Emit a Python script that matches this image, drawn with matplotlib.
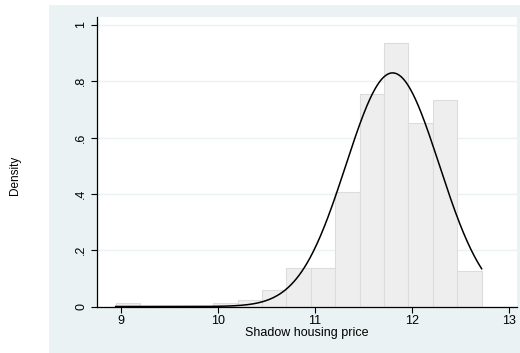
import numpy as np
import matplotlib
matplotlib.use("Agg")
import matplotlib.pyplot as plt
from matplotlib.patches import Rectangle

plt.rcParams['font.family'] = ['Liberation Sans', 'DejaVu Sans']

# Histogram bins (left edges), bin width and density heights
bin_start = 8.9455
bin_width = 0.2515
densities = [0.011, 0.0, 0.0, 0.0, 0.011, 0.022, 0.0575, 0.136, 0.136,
             0.406, 0.754, 0.935, 0.652, 0.733, 0.126]
# Normal overlay parameters
norm_mean = 11.80
norm_sd = 0.4807
x_min, x_max = 8.9455, 12.718

xticks = [9, 10, 11, 12, 13]
yticks = [0, 0.2, 0.4, 0.6, 0.8, 1.0]
ytick_labels = ["0", ".2", ".4", ".6", ".8", "1"]
xlabel = "Shadow housing price"
ylabel = "Density"

fig = plt.figure(figsize=(5.2, 3.53), dpi=100)
fig.patch.set_facecolor('white')
bg = Rectangle((49/520, 0), 1 - 49/520, 348/353, transform=fig.transFigure,
               facecolor='#EAF2F3', edgecolor='none', zorder=-10)
fig.patches.append(bg)

ax = fig.add_axes([97/520, 46.5/353, 420/520, 289.5/353])
ax.set_zorder(1)
ax.set_facecolor('white')

edges = bin_start + bin_width * np.arange(len(densities))
ax.bar(edges, densities, width=bin_width, align='edge',
       facecolor='#EEEEEE', edgecolor='#DCDCDC', linewidth=0.8, zorder=2)

xs = np.linspace(x_min, x_max, 400)
ys = np.exp(-0.5 * ((xs - norm_mean) / norm_sd) ** 2) / (norm_sd * np.sqrt(2 * np.pi))
ax.plot(xs, ys, color='black', linewidth=1.1, zorder=3)

ax.set_xlim(8.753, 13.082)
ax.set_ylim(0, 1.0284)
ax.set_xticks(xticks)
ax.set_yticks(yticks)
ax.set_yticklabels(ytick_labels, rotation=90, va='center')
ax.tick_params(axis='both', labelsize=9, length=4, width=0.8, color='black')
ax.tick_params(axis='y', pad=3)
ax.tick_params(axis='x', pad=2)
ax.grid(axis='y', color='#EAF2F3', linewidth=1.0, zorder=1)
ax.set_axisbelow(True)
for s in ['top', 'right']:
    ax.spines[s].set_visible(False)
for s in ['left', 'bottom']:
    ax.spines[s].set_linewidth(0.9)

ax.set_xlabel(xlabel, fontsize=9, labelpad=0)
fig.text(15/520, 1 - 175/353, ylabel, rotation=90, fontsize=8.5,
         ha='center', va='center')

fig.savefig('out.png', dpi=100)
